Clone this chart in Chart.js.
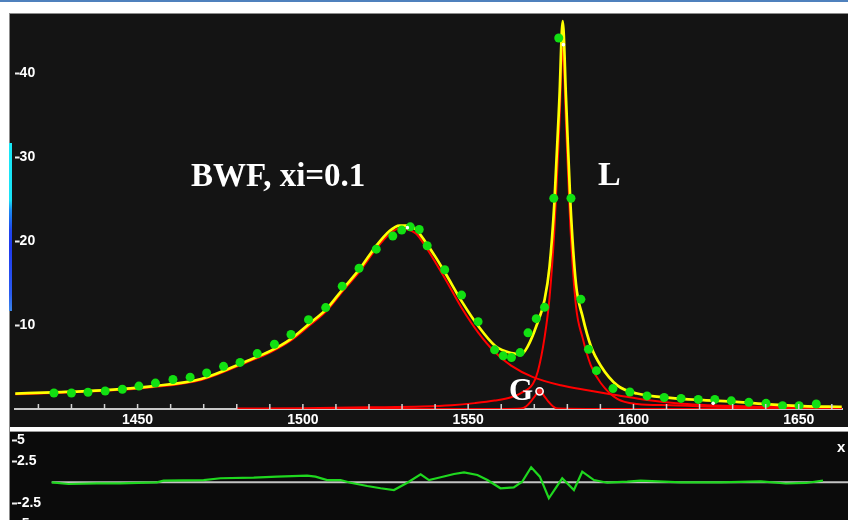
<!DOCTYPE html>
<html><head><meta charset="utf-8">
<script src="https://cdn.jsdelivr.net/npm/chart.js@4.4.1/dist/chart.umd.min.js"></script>
<style>
html,body{margin:0;padding:0;background:#fff;width:848px;height:520px;overflow:hidden;}
body{position:relative;}
.abs{position:absolute;}
#topbar{left:0;top:0;width:848px;height:2px;background:#4f81bd;}
#mainWrap{left:9px;top:13px;width:839px;height:414px;background:#141414;}
#band{left:9px;top:427px;width:839px;height:5px;background:#ffffff;border-bottom:1px solid #9a9a9a;box-sizing:border-box;}
#resWrap{left:9px;top:432px;width:839px;height:120px;background:#0b0b0b;}
#lborder{left:9px;top:13px;width:1px;height:507px;background:#8c8c8c;z-index:3;}
#tborder{left:9px;top:13px;width:839px;height:1px;background:#8c8c8c;z-index:3;}
#slider{left:9px;top:143px;width:3px;height:168px;z-index:4;
  background:linear-gradient(to bottom,#18e8f6 0%,#18e2f6 34%,#1b8cf2 40%,#1f46ee 52%,#1f3aee 62%,#2a5cf0 90%,#3c86e8 100%);}
.lbl{color:#fff;font-family:"Liberation Serif","Times New Roman",serif;font-weight:bold;line-height:1;white-space:nowrap;z-index:5;}
#xlab{left:837px;top:439px;color:#fff;font-family:"Liberation Sans",Arial,sans-serif;font-weight:bold;font-size:15px;line-height:1;z-index:5;}
canvas{display:block;}
</style>
</head>
<body>
<div id="topbar" class="abs"></div>
<div id="mainWrap" class="abs"><canvas id="main" width="839" height="414"></canvas></div>
<div id="band" class="abs"></div>
<div id="resWrap" class="abs"><canvas id="resid" width="839" height="120"></canvas></div>
<div id="lborder" class="abs"></div>
<div id="tborder" class="abs"></div>
<div id="slider" class="abs"></div>
<div class="abs lbl" style="left:191px;top:159px;font-size:33px;">BWF, xi=0.1</div>
<div class="abs lbl" style="left:598px;top:157px;font-size:34px;">L</div>
<div class="abs lbl" style="left:509px;top:374px;font-size:31px;">G</div>
<div id="xlab" class="abs">x</div>
<script>
// ---- measured data (green dots) ----
const dataX = [1424.7,1430.0,1435.0,1440.2,1445.4,1450.4,1455.4,1460.7,1465.9,1470.9,1476.0,1481.0,1486.2,1491.4,1496.4,1501.7,1506.9,1511.9,1517.0,1522.2,1527.2,1529.9,1532.5,1535.2,1537.6,1542.9,1548.0,1553.0,1558.0,1560.6,1563.1,1565.7,1568.1,1570.6,1573.1,1575.9,1577.4,1581.1,1584.1,1586.4,1588.8,1593.8,1598.9,1604.1,1609.3,1614.4,1619.6,1624.6,1629.6,1634.9,1640.1,1645.1,1650.1,1655.3];
const dataY = [1.91,1.91,1.99,2.15,2.35,2.73,3.09,3.52,3.79,4.30,5.08,5.55,6.60,7.71,8.88,10.64,12.08,14.63,16.77,19.04,20.61,21.31,21.70,21.38,19.44,16.58,13.57,10.40,7.05,6.33,6.14,6.72,9.07,10.76,12.12,25.1,44.19,25.1,13.06,7.12,4.57,2.43,2.03,1.56,1.37,1.26,1.14,1.14,0.97,0.79,0.67,0.39,0.39,0.59];
// ---- total fit (yellow) ----
const fitX = [1413.0,1424.2,1439.2,1454.2,1469.2,1483.3,1490.2,1496.2,1502.2,1507.2,1512.2,1517.2,1522.2,1526.2,1529.2,1531.2,1534.2,1537.2,1540.2,1543.2,1548.1,1553.1,1558.2,1563.1,1566.1,1568.1,1570.6,1573.1,1574.6,1576.1,1577.6,1578.6,1579.6,1580.9,1582.6,1584.6,1587.1,1590.1,1595.1,1601.1,1611.1,1621.1,1631.1,1641.1,1651.1,1663.0];
const fitY = [1.84,1.99,2.23,2.70,3.58,5.75,6.92,8.29,10.24,11.93,14.35,16.69,19.44,21.20,21.85,21.85,21.38,19.82,18.06,16.11,12.79,9.85,7.51,6.65,6.53,7.51,9.85,12.99,16.89,24.72,37.0,46.2,37.0,24.72,14.93,11.03,7.51,5.16,2.82,1.84,1.33,1.06,0.86,0.55,0.35,0.27];
// ---- BWF component (red) ----
const bwfX = [1413.0,1424.2,1439.2,1454.2,1469.2,1483.3,1490.2,1496.2,1502.2,1507.2,1512.2,1517.2,1522.2,1526.2,1529.2,1531.2,1534.2,1537.2,1540.2,1543.2,1548.1,1553.1,1558.2,1563.0,1569.6,1578.0,1586.1,1595.1,1604.1,1614.6,1635.6,1663.0];
const bwfY = [1.75,1.90,2.13,2.58,3.45,5.60,6.75,8.10,10.0,11.7,14.1,16.4,19.1,20.85,21.5,21.45,20.9,19.3,17.4,15.4,12.0,9.07,6.72,5.16,3.79,2.82,2.23,1.64,1.06,0.62,0.29,0.15];
// ---- Lorentzian component L (red) ----
const lorX = [1480,1500,1520,1536,1545,1552,1558,1563,1566,1569.6,1571.1,1573.1,1574.6,1576.1,1577.6,1578.6,1579.6,1580.9,1582.6,1584.6,1587.1,1590.1,1595.1,1601.1,1611.1,1621.1,1641.1,1663];
const lorY = [0.05,0.10,0.20,0.30,0.45,0.70,1.0,1.4,1.9,3.0,4.5,8.5,13.2,21.5,34.0,43.0,34.0,21.8,12.3,8.5,5.2,3.1,1.2,0.6,0.45,0.3,0.12,0.07];
// ---- Gaussian component G (red) ----
const gauX = [1480,1560,1566,1567.5,1569,1570.3,1571.6,1572.9,1574.2,1575.7,1577.2,1590,1663];
const gauY = [0,0,0.05,0.3,0.9,1.6,2.1,1.6,0.9,0.3,0.05,0,0];
// ---- peak handles ----
const handleX = [1531.6,1578.8,1624.1];
const handleY = [21.6,43.4,0.67];
const gMarkX = [1571.6];
const gMarkY = [2.1];
// ---- residuals ----
const resX = [1424.7,1429.7,1438.2,1445.2,1456.2,1458.2,1470.2,1475.2,1485.2,1492.2,1501.2,1503.7,1507.2,1511.2,1514.2,1519.2,1523.2,1527.2,1531.2,1535.2,1537.7,1541.2,1545.2,1548.2,1552.2,1555.2,1559.1,1563.1,1565.6,1568.3,1570.9,1573.6,1577.6,1581.1,1583.6,1587.1,1591.1,1597.1,1601.1,1613.1,1625.1,1637.1,1644.6,1650.6,1655.7];
const resY = [0,-0.2,-0.12,-0.12,0,0.19,0.27,0.48,0.55,0.67,0.79,0.67,0.27,0.27,-0.05,-0.44,-0.71,-0.92,-0.05,0.95,0.27,0.6,0.99,1.19,0.87,0.27,-0.71,-0.6,0.07,1.79,0.67,-1.9,0.48,-0.92,1.26,0.27,-0.05,0.07,0.19,0,-0.02,0.1,-0.14,-0.08,0.2];
const zeroX = [1424.7,1663.2];
const zeroY = [0,0];
// axis settings
const xMin = 1412.8, xMax = 1663.2, xStep = 10, xLabelEvery = 50;
const yMainMax = 46.5, yMainStep = 10;
const yResMin = -8.3, yResMax = 5.99, yResStep = 2.5;

const pts = (xs, ys) => xs.map((x, i) => ({x: x, y: ys[i]}));
const tickFont = {family: "'Liberation Sans', Arial, sans-serif", size: 14, weight: 'bold'};

function fixY(w){ return function(s){ s.width = w; s.paddingTop = 0; s.paddingBottom = 0; s.paddingLeft = 0; s.paddingRight = 0; }; }
function fixX(h){ return function(s){ s.height = h; s.paddingLeft = 0; s.paddingRight = 0; s.paddingTop = 0; s.paddingBottom = 0; }; }
const yTickColor = c => (c.tick && c.tick.value === 0 ? 'rgba(0,0,0,0)' : '#f0f0f0');

// short tick marks pointing up into the plot, at the x scale's own ticks
const inwardXTicks = {
  id: 'inwardXTicks',
  afterDatasetsDraw(chart) {
    const s = chart.scales.x, ctx = chart.ctx;
    ctx.save();
    ctx.strokeStyle = '#d2d2d2';
    ctx.lineWidth = 1.5;
    s.ticks.forEach(t => {
      const px = s.getPixelForValue(t.value);
      ctx.beginPath();
      ctx.moveTo(px, s.top);
      ctx.lineTo(px, s.top - 5);
      ctx.stroke();
    });
    ctx.restore();
  }
};

new Chart(document.getElementById('main'), {
  type: 'line',
  data: {
    datasets: [
      {label: 'handles', data: pts(handleX, handleY), showLine: false, pointRadius: 1.8, pointBackgroundColor: '#ffffff', pointBorderWidth: 0, order: 0},
      {label: 'G marker', data: pts(gMarkX, gMarkY), showLine: false, pointRadius: 3.6, pointBackgroundColor: '#e02020', pointBorderColor: '#ffffff', pointBorderWidth: 1.6, order: 0},
      {label: 'data', data: pts(dataX, dataY), showLine: false, pointRadius: 4.5, pointBackgroundColor: '#12e012', pointBorderWidth: 0, order: 1},
      {label: 'fit', data: pts(fitX, fitY), borderColor: '#ffff00', borderWidth: 2.7, pointRadius: 0, cubicInterpolationMode: 'monotone', order: 2},
      {label: 'BWF', data: pts(bwfX, bwfY), borderColor: '#ff0000', borderWidth: 2, pointRadius: 0, cubicInterpolationMode: 'monotone', order: 3},
      {label: 'L', data: pts(lorX, lorY), borderColor: '#ff0000', borderWidth: 2, pointRadius: 0, cubicInterpolationMode: 'monotone', order: 4},
      {label: 'G', data: pts(gauX, gauY), borderColor: '#ff0000', borderWidth: 2, pointRadius: 0, cubicInterpolationMode: 'monotone', order: 5}
    ]
  },
  plugins: [inwardXTicks],
  options: {
    responsive: false, animation: false, devicePixelRatio: 1,
    layout: {padding: 0},
    plugins: {legend: {display: false}, tooltip: {enabled: false}},
    scales: {
      x: {
        type: 'linear', position: 'bottom', min: xMin, max: xMax,
        afterFit: fixX(18),
        grid: {display: false, drawTicks: false},
        border: {display: true, color: '#c8c8c8', width: 2},
        ticks: {stepSize: xStep, includeBounds: false, autoSkip: false, maxRotation: 0, minRotation: 0, maxTicksLimit: 100, padding: 3, color: '#ffffff', font: tickFont,
          callback: v => (Math.round(v) % xLabelEvery === 0 ? String(Math.round(v)) : '')}
      },
      y: {
        type: 'linear', position: 'left', min: 0, max: yMainMax,
        afterFit: fixY(3),
        grid: {display: true, drawOnChartArea: false, drawTicks: true, tickLength: -5, tickColor: yTickColor, tickWidth: 2},
        border: {display: false},
        ticks: {stepSize: yMainStep, includeBounds: false, mirror: true, padding: 5, color: '#ffffff', font: tickFont,
          callback: v => (v === 0 ? '' : String(v))}
      }
    }
  }
});

new Chart(document.getElementById('resid'), {
  type: 'line',
  data: {
    datasets: [
      {label: 'residual', data: pts(resX, resY), borderColor: '#1fd81f', borderWidth: 2.2, pointRadius: 0, tension: 0, order: 0},
      {label: 'zero', data: pts(zeroX, zeroY), borderColor: '#c4c4c4', borderWidth: 2, pointRadius: 0, order: 1}
    ]
  },
  options: {
    responsive: false, animation: false, devicePixelRatio: 1,
    layout: {padding: 0},
    plugins: {legend: {display: false}, tooltip: {enabled: false}},
    scales: {
      x: {type: 'linear', min: xMin, max: xMax, display: false},
      y: {
        type: 'linear', position: 'left', min: yResMin, max: yResMax,
        afterFit: fixY(3),
        grid: {display: true, drawOnChartArea: false, drawTicks: true, tickLength: -5, tickColor: yTickColor, tickWidth: 2},
        border: {display: false},
        ticks: {stepSize: yResStep, includeBounds: false, mirror: true, padding: 5, color: '#ffffff', font: tickFont,
          callback: v => (v === 0 ? '' : String(v))}
      }
    }
  }
});
</script>
</body></html>
